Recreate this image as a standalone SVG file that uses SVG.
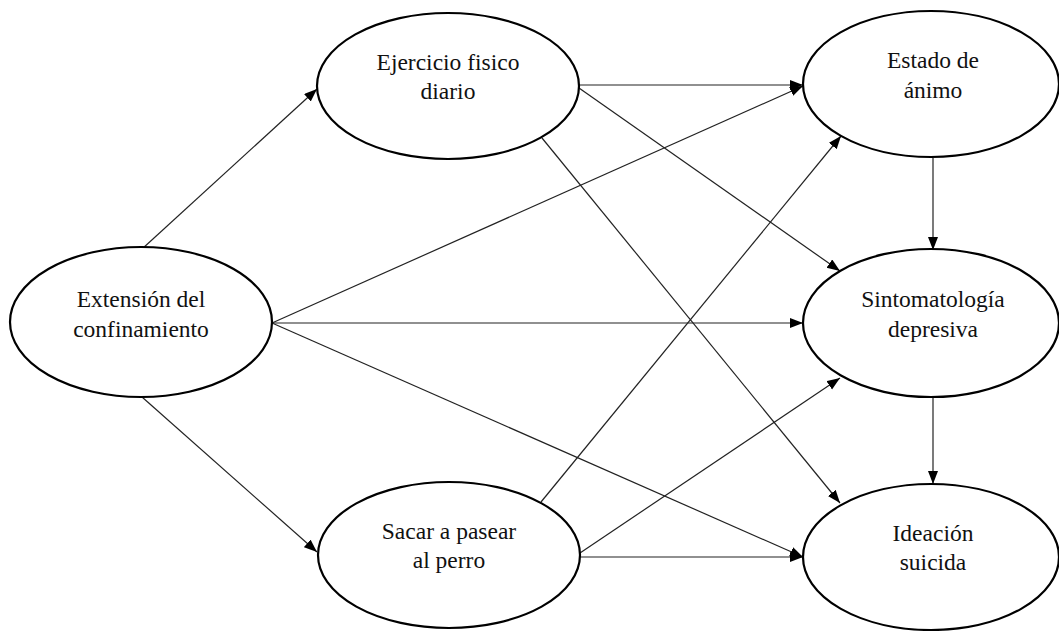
<svg xmlns="http://www.w3.org/2000/svg" width="1059" height="631" viewBox="0 0 1059 631">
<defs>
<marker id="ah" markerUnits="userSpaceOnUse" markerWidth="14" markerHeight="11" refX="13" refY="5" orient="auto">
<path d="M0,0 L13,5 L0,10 z" fill="#000"/>
</marker>
<style>
.node ellipse{fill:#fff;stroke:#000;stroke-width:2.2}
.node text{font-family:"Liberation Serif","Times New Roman",serif;font-size:23.5px;fill:#111;text-anchor:middle}
#connectors line{stroke:#222;stroke-width:1.2;marker-end:url(#ah)}
</style>
</defs>
<rect width="1059" height="631" fill="#fff"/>
<g id="connectors">
<line x1="142" y1="249" x2="317" y2="89"/>
<line x1="142" y1="397" x2="317" y2="552"/>
<line x1="272" y1="323" x2="803" y2="86"/>
<line x1="272" y1="323" x2="803" y2="323"/>
<line x1="272" y1="323" x2="803" y2="557"/>
<line x1="579" y1="85" x2="803" y2="85"/>
<line x1="579" y1="88" x2="840" y2="271"/>
<line x1="542" y1="138" x2="840" y2="503"/>
<line x1="541" y1="502" x2="841" y2="136"/>
<line x1="580" y1="553" x2="840" y2="378"/>
<line x1="580" y1="557" x2="803" y2="557"/>
<line x1="933" y1="158" x2="933" y2="250"/>
<line x1="933" y1="398" x2="933" y2="484"/>
</g>
<g id="extension" class="node">
<ellipse cx="141" cy="322" rx="131" ry="75"/>
<text x="141" y="307">Extensión del</text>
<text x="141" y="337">confinamiento</text>
</g>
<g id="ejercicio" class="node">
<ellipse cx="448" cy="86" rx="131" ry="73"/>
<text x="448" y="70">Ejercicio fisico</text>
<text x="448" y="99">diario</text>
</g>
<g id="sacar" class="node">
<ellipse cx="449" cy="555" rx="131" ry="73"/>
<text x="449" y="539">Sacar a pasear</text>
<text x="449" y="568">al perro</text>
</g>
<g id="estado" class="node">
<ellipse cx="931" cy="84" rx="128" ry="73"/>
<text x="933" y="68">Estado de</text>
<text x="933" y="98">ánimo</text>
</g>
<g id="sintomatologia" class="node">
<ellipse cx="931" cy="323" rx="128" ry="74"/>
<text x="933" y="307">Sintomatología</text>
<text x="933" y="337">depresiva</text>
</g>
<g id="ideacion" class="node">
<ellipse cx="931" cy="557" rx="128" ry="73"/>
<text x="933" y="541">Ideación</text>
<text x="933" y="570">suicida</text>
</g>
</svg>
